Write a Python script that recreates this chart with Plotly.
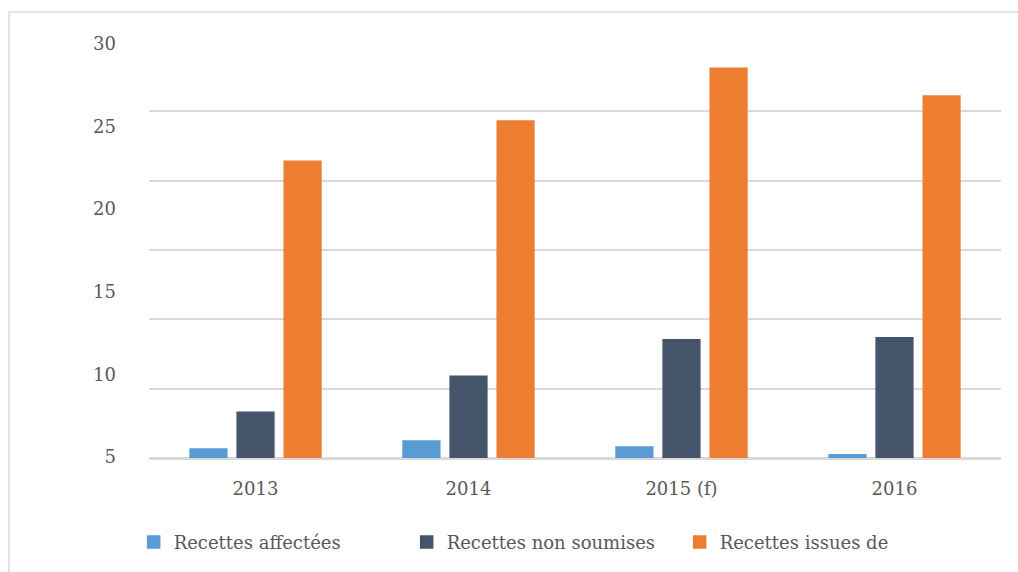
import plotly.graph_objects as go

years = ["2013", "2014", "2015 (f)", "2016"]
affectees = [0.65, 1.23, 0.8, 0.23]
non_soumises = [3.3, 5.9, 8.53, 8.67]
issues_de = [21.4, 24.3, 28.1, 26.1]
label_ticks = [5, 10, 15, 20, 25, 30]
grid_ticks = [0, 5, 10, 15, 20, 25, 30]

FONT = "DejaVu Serif"
TXT = "#595959"
GRID = "#d9d9d9"
C_AFF, C_NON, C_ISS = "#5B9BD5", "#44546A", "#ED7D31"

fig = go.Figure()
fig.add_trace(go.Bar(x=years, y=affectees, name="Recettes affectées",
                     marker=dict(color=C_AFF, line=dict(color=C_AFF, width=1.5))))
fig.add_trace(go.Bar(x=years, y=non_soumises, name="Recettes non soumises",
                     marker=dict(color=C_NON, line=dict(color=C_NON, width=1.5))))
fig.add_trace(go.Bar(x=years, y=issues_de, name="Recettes issues de",
                     marker=dict(color=C_ISS, line=dict(color=C_ISS, width=1.5))))
# invisible trace for the (offset) label axis
fig.add_trace(go.Scatter(x=years, y=[None] * 4, yaxis="y2", showlegend=False, hoverinfo="skip"))

fig.update_layout(
    width=1018, height=572,
    margin=dict(l=149, r=17, t=42, b=113),
    paper_bgcolor="white", plot_bgcolor="white",
    font=dict(family=FONT, color=TXT, size=18),
    barmode="group", bargap=0.337, bargroupgap=0.22,
    xaxis=dict(showgrid=False, showline=False, ticks="", ticklabelstandoff=18,
               tickfont=dict(family=FONT, size=18, color=TXT)),
    yaxis=dict(range=[0, 30], tickvals=grid_ticks, showticklabels=False,
               showgrid=True, gridcolor=GRID, gridwidth=1.5,
               zeroline=True, zerolinecolor=GRID, zerolinewidth=2.5),
    yaxis2=dict(overlaying="y", side="left", range=[4.95, 30.1], tickvals=label_ticks,
                showgrid=False, zeroline=False, showline=False,
                ticklabelstandoff=32, tickfont=dict(family=FONT, size=18, color=TXT)),
    legend=dict(orientation="h", x=-0.018, xanchor="left", y=-0.2, yanchor="middle",
                entrywidth=228, font=dict(family=FONT, size=18, color=TXT), traceorder="normal"),
    shapes=[dict(type="rect", xref="paper", yref="paper",
                 x0=(9 - 149) / 852, x1=1.1, y0=-0.5, y1=1 + (42 - 12) / 417,
                 line=dict(color=GRID, width=1.5), layer="below")],
)

fig.write_html("out.html")
